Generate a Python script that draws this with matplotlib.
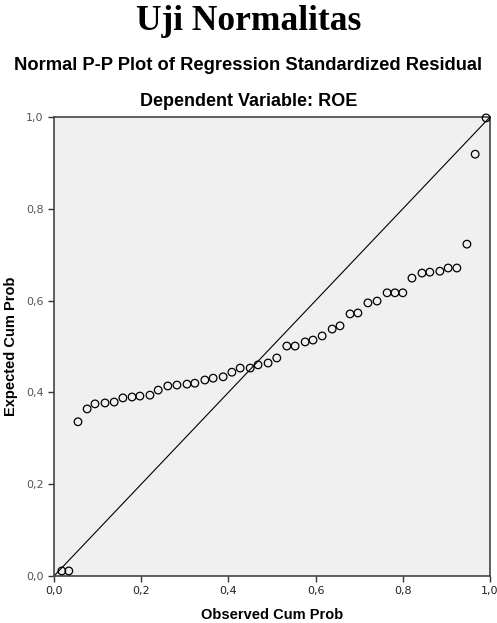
import numpy as np
import matplotlib
matplotlib.use("Agg")
import matplotlib.pyplot as plt

# observed cum prob / expected cum prob
obs = [0.018, 0.034, 0.055, 0.076, 0.094, 0.117, 0.138, 0.158, 0.179, 0.197,
       0.220, 0.239, 0.261, 0.282, 0.305, 0.323, 0.346, 0.365, 0.388, 0.408,
       0.427, 0.450, 0.468, 0.491, 0.511, 0.534, 0.553, 0.576, 0.594, 0.615,
       0.638, 0.656, 0.679, 0.697, 0.720, 0.741, 0.764, 0.782, 0.800, 0.821,
       0.844, 0.862, 0.885, 0.904, 0.924, 0.947, 0.966, 0.991]
exp = [0.011, 0.011, 0.336, 0.364, 0.375, 0.377, 0.379, 0.388, 0.390, 0.392,
       0.394, 0.405, 0.414, 0.416, 0.418, 0.420, 0.427, 0.431, 0.434, 0.444,
       0.453, 0.453, 0.460, 0.464, 0.475, 0.501, 0.501, 0.510, 0.514, 0.523,
       0.538, 0.545, 0.571, 0.573, 0.595, 0.599, 0.617, 0.617, 0.617, 0.649,
       0.660, 0.662, 0.664, 0.671, 0.671, 0.723, 0.919, 0.998]
ticks = [0.0, 0.2, 0.4, 0.6, 0.8, 1.0]
tick_labels = ["0,0", "0,2", "0,4", "0,6", "0,8", "1,0"]

fig = plt.figure(figsize=(4.97, 6.23), dpi=100)
ax = fig.add_axes([54/497, 47/623, 436/497, 459/623])
ax.set_facecolor("#f0f0f0")

ax.plot([0, 1], [0, 1], color="black", lw=0.8, zorder=2)
ax.scatter(obs, exp, s=30, facecolors="none", edgecolors="black",
           linewidths=0.9, zorder=3, clip_on=False)

ax.set_xlim(0, 1)
ax.set_ylim(0, 1)
ax.set_xticks(ticks)
ax.set_xticklabels(tick_labels)
ax.set_yticks(ticks)
ax.set_yticklabels(tick_labels)
ax.tick_params(direction="out", length=4, width=1, color="#333333",
               labelsize=8, labelcolor="#222222")
ax.tick_params(axis="y", labelcolor="#555555")
for s in ax.spines.values():
    s.set_color("#444444")
    s.set_linewidth(1.2)

ax.set_xlabel("Observed Cum Prob", fontsize=10.5, fontweight="bold",
              family="Liberation Sans", labelpad=8)
ax.set_ylabel("Expected Cum Prob", fontsize=10.5, fontweight="bold",
              family="Liberation Sans", labelpad=6)

fig.text(0.5, 1 - 22/623, "Uji Normalitas", ha="center", va="center",
         fontsize=25.5, fontweight="bold", family="Liberation Serif")
fig.text(0.5, 1 - 65/623, "Normal P-P Plot of Regression Standardized Residual",
         ha="center", va="center", fontsize=13.2, fontweight="bold",
         family="Liberation Sans")
fig.text(0.5, 1 - 102/623, "Dependent Variable: ROE", ha="center", va="center",
         fontsize=13, fontweight="bold", family="Liberation Sans")

fig.savefig("out.png", dpi=100)
